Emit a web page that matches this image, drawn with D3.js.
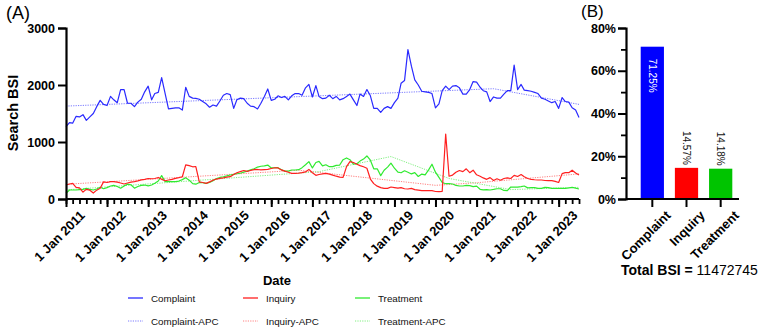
<!DOCTYPE html>
<html>
<head>
<meta charset="utf-8">
<script src="https://cdn.jsdelivr.net/npm/d3@7"></script>
<style>
  body { margin: 0; background: #fff; }
  svg { font-family: "Liberation Sans", Arial, sans-serif; }
</style>
</head>
<body>
<svg id="chart" width="761" height="331"></svg>
<script>
// monthly search BSI, Jan 2011 .. Jul 2023
const firstMonth = new Date(2011, 0, 1);
const lastMonth = new Date(2023, 6, 1);

const complaint = [
  1270,1340,1330,1450,1440,1480,1380,1440,1500,1620,1730,1660,
  1640,1800,1740,1690,1920,1920,1680,1680,1620,1700,1750,1880,
  1980,1740,1850,1870,2130,1850,1580,1590,1600,1600,1560,1960,
  1800,1770,1765,1750,1710,1670,1610,1650,1630,1720,1820,1850,
  1830,1590,1740,1770,1760,1680,1630,1620,1580,1680,1800,1930,
  1730,1750,1810,1780,1800,1740,1810,1850,1850,1820,1950,2010,
  1790,1990,1800,1760,1770,1820,1760,1800,1740,1760,1800,1840,
  1740,1640,1840,1800,1920,1810,1590,1590,1520,1590,1620,1590,
  1690,1770,2030,2080,2620,2330,2090,2000,1890,1880,1870,1850,
  1600,1670,1900,1980,1920,1980,1990,1950,1840,1840,1920,2060,
  2050,1960,1900,1880,1710,1790,1770,1770,1840,1900,1900,2350,
  1920,2010,1910,1900,1890,1870,1850,1770,1750,1720,1690,1710,
  1590,1780,1710,1700,1600,1560,1430
];
const inquiry = [
  246,263,275,205,195,120,170,155,105,155,187,300,
  290,304,304,295,280,263,280,295,304,318,335,345,
  360,355,360,378,345,320,333,345,363,375,391,600,
  585,565,570,300,290,275,300,330,350,363,372,385,
  391,430,460,480,500,485,500,515,518,510,515,520,
  535,548,545,510,490,470,450,450,455,462,475,520,
  460,415,430,440,450,435,420,400,385,380,567,655,
  640,610,585,565,540,350,270,225,200,187,187,210,
  200,190,199,180,175,187,165,155,146,146,146,146,
  132,129,135,1140,400,420,470,500,480,530,462,505,
  425,400,370,345,375,325,355,330,360,370,360,415,
  395,430,390,360,345,338,333,333,325,321,321,310,
  290,445,462,462,505,455,420
];
const treatment = [
  100,158,158,158,165,170,187,170,158,175,205,180,
  200,228,240,220,190,230,260,250,190,220,238,245,
  230,245,275,315,410,305,304,304,304,315,340,374,
  330,270,260,290,285,275,290,320,360,378,391,405,
  421,433,443,452,472,490,512,530,560,575,580,595,
  545,548,550,512,490,490,509,509,515,550,600,655,
  545,640,660,580,600,567,567,590,596,690,720,690,
  610,620,665,700,755,680,530,530,410,505,560,630,
  540,470,460,495,470,440,462,395,437,422,510,610,
  470,380,290,268,270,263,240,228,228,240,235,216,
  225,170,160,165,158,168,180,180,150,146,210,210,
  208,216,228,195,200,200,187,187,205,200,187,187,
  187,187,187,195,205,190,175
];

// joinpoint (APC) trend lines
const complaintApc = [["2011-01",1630],["2021-06",1935],["2023-07",1660]];
const inquiryApc = [["2011-01",258],["2016-09",505],["2020-01",240],["2021-01",285],["2023-07",440]];
const treatmentApc = [["2011-01",160],["2017-03",480],["2018-12",745],["2020-05",360],["2021-11",165],["2023-07",205]];

const yTicksA = [0, 1000, 2000, 3000];
const tickYears = d3.range(2011, 2024);

// panel B
const barCats = ["Complaint", "Inquiry", "Treatment"];
const barShares = [71.25, 14.57, 14.18];
const yTicksB = [0, 20, 40, 60, 80];
const totalBsi = 11472745;

const colors = { Complaint: "#2a2aff", Inquiry: "#ff1f1f", Treatment: "#30ea30" };
const apcColors = { Complaint: "#7a7aff", Inquiry: "#ff8080", Treatment: "#80f080" };
const barColors = ["#0000ff", "#ff0000", "#00c400"];

const svg = d3.select("#chart");
const months = d3.timeMonth.range(firstMonth, d3.timeMonth.offset(lastMonth, 1));
const parseMonth = d3.timeParse("%Y-%m");

// ---------- panel A ----------
const x = d3.scaleTime().domain([firstMonth, lastMonth]).range([66, 579]);
const y = d3.scaleLinear().domain([0, 3000]).range([199, 28]);

svg.append("text").attr("x", 6).attr("y", 19).attr("font-size", 18).text("(A)");

const line = d3.line().x(d => x(d[0])).y(d => y(d[1]));

const series = [
  { key: "Complaint", values: complaint, apc: complaintApc },
  { key: "Inquiry", values: inquiry, apc: inquiryApc },
  { key: "Treatment", values: treatment, apc: treatmentApc }
];

// dotted trends first, then the monthly lines on top
series.forEach(s => {
  svg.append("path")
    .attr("d", line(s.apc.map(p => [parseMonth(p[0]), p[1]])))
    .attr("fill", "none")
    .attr("stroke", apcColors[s.key])
    .attr("stroke-width", 1)
    .attr("stroke-dasharray", "1.2,1.2");
});
[series[2], series[1], series[0]].forEach(s => {
  svg.append("path")
    .attr("d", line(s.values.map((v, i) => [months[i], v])))
    .attr("fill", "none")
    .attr("stroke", colors[s.key])
    .attr("stroke-width", 1.2)
    .attr("stroke-linejoin", "round");
});

// y axis
const yAxis = svg.append("g")
  .attr("transform", "translate(66,0)")
  .call(d3.axisLeft(y).tickValues(yTicksA).tickSize(8).tickPadding(3).tickFormat(d3.format("d")));
yAxis.select(".domain").attr("stroke-width", 2.2);
yAxis.selectAll(".tick line").attr("stroke-width", 2);
yAxis.selectAll("text").attr("font-size", 12.5).attr("font-weight", "bold").attr("font-family", null);

svg.append("text")
  .attr("transform", "translate(18,113) rotate(-90)")
  .attr("text-anchor", "middle")
  .attr("font-size", 14.5).attr("font-weight", "bold")
  .text("Search BSI");

// x axis: minor ticks every 2 months, major every year
const xMinor = svg.append("g")
  .attr("transform", "translate(0,199)")
  .call(d3.axisBottom(x).ticks(d3.timeMonth.every(2)).tickSize(5).tickFormat(""));
xMinor.select(".domain").remove();
xMinor.selectAll(".tick line").attr("stroke-width", 1.8);

const xAxis = svg.append("g")
  .attr("transform", "translate(0,199)")
  .call(d3.axisBottom(x)
    .tickValues(tickYears.map(yr => new Date(yr, 0, 1)))
    .tickSize(8)
    .tickFormat(d => "1 Jan " + d.getFullYear()));
xAxis.select(".domain").attr("stroke-width", 2.2).attr("d", "M66,0H579");
xAxis.selectAll(".tick line").attr("stroke-width", 2);
xAxis.selectAll("text")
  .attr("font-size", 13).attr("font-weight", "bold").attr("font-family", null)
  .attr("text-anchor", "end")
  .attr("transform", "translate(5,3) rotate(-45)")
  .attr("dy", "0.7em");

svg.append("text")
  .attr("x", 277).attr("y", 285)
  .attr("text-anchor", "middle")
  .attr("font-size", 13).attr("font-weight", "bold")
  .text("Date");

// legend
const legendItems = [
  { label: "Complaint", color: colors.Complaint, dash: null, col: 0, row: 0 },
  { label: "Inquiry", color: colors.Inquiry, dash: null, col: 1, row: 0 },
  { label: "Treatment", color: colors.Treatment, dash: null, col: 2, row: 0 },
  { label: "Complaint-APC", color: apcColors.Complaint, dash: "1.2,1.2", col: 0, row: 1 },
  { label: "Inquiry-APC", color: apcColors.Inquiry, dash: "1.2,1.2", col: 1, row: 1 },
  { label: "Treatment-APC", color: apcColors.Treatment, dash: "1.2,1.2", col: 2, row: 1 }
];
const legendCols = [128, 243, 355];
const legendRows = [298, 321];
const legend = svg.append("g");
legendItems.forEach(d => {
  const lx = legendCols[d.col], ly = legendRows[d.row];
  legend.append("line")
    .attr("x1", lx).attr("x2", lx + 15).attr("y1", ly).attr("y2", ly)
    .attr("stroke", d.color).attr("stroke-width", d.dash ? 1 : 1.3)
    .attr("stroke-dasharray", d.dash);
  legend.append("text")
    .attr("x", lx + 23).attr("y", ly + 3.5)
    .attr("font-size", 9.8)
    .attr("fill", "#111")
    .text(d.label);
});

// ---------- panel B ----------
svg.append("text").attr("x", 581).attr("y", 17).attr("font-size", 17).text("(B)");

const xb = d3.scaleBand().domain(barCats).range([626, 747]).paddingInner(0.32).paddingOuter(0.43);
const yb = d3.scaleLinear().domain([0, 80]).range([199, 28]);

svg.selectAll("rect.bar")
  .data(barCats)
  .enter()
  .append("rect")
  .attr("class", "bar")
  .attr("x", d => xb(d))
  .attr("y", (d, i) => yb(barShares[i]))
  .attr("width", xb.bandwidth())
  .attr("height", (d, i) => yb(0) - yb(barShares[i]))
  .attr("fill", (d, i) => barColors[i]);

svg.selectAll("text.barlab")
  .data(barCats)
  .enter()
  .append("text")
  .attr("class", "barlab")
  .attr("transform", (d, i) => {
    const cx = xb(d) + xb.bandwidth() / 2;
    const top = yb(barShares[i]);
    return i === 0 ? `translate(${cx},${top + 12}) rotate(90)` : `translate(${cx},${top - 3}) rotate(90)`;
  })
  .attr("text-anchor", (d, i) => i === 0 ? "start" : "end")
  .attr("dy", "0.35em")
  .attr("font-size", 10)
  .attr("fill", (d, i) => i === 0 ? "#fff" : "#111")
  .text((d, i) => barShares[i].toFixed(2) + "%");

const ybMinor = svg.append("g")
  .attr("transform", "translate(626,0)")
  .call(d3.axisLeft(yb).tickValues([10, 30, 50, 70]).tickSize(5).tickFormat(""));
ybMinor.select(".domain").remove();
ybMinor.selectAll(".tick line").attr("stroke-width", 1.8);

const ybAxis = svg.append("g")
  .attr("transform", "translate(626,0)")
  .call(d3.axisLeft(yb).tickValues(yTicksB).tickSize(8).tickPadding(2).tickFormat(d => d + "%"));
ybAxis.select(".domain").attr("stroke-width", 2.2);
ybAxis.selectAll(".tick line").attr("stroke-width", 2);
ybAxis.selectAll("text").attr("font-size", 12.5).attr("font-weight", "bold").attr("font-family", null);

const xbAxis = svg.append("g")
  .attr("transform", "translate(0,199)")
  .call(d3.axisBottom(xb).tickSize(8));
xbAxis.select(".domain").attr("stroke-width", 2.2).attr("d", "M626,0H739");
xbAxis.selectAll(".tick line").attr("stroke-width", 2);
xbAxis.selectAll("text")
  .attr("font-size", 13).attr("font-weight", "bold").attr("font-family", null)
  .attr("text-anchor", "end")
  .attr("transform", "translate(5,3) rotate(-45)")
  .attr("dy", "0.7em");

const total = svg.append("text").attr("x", 621).attr("y", 275).attr("font-size", 14);
total.append("tspan").attr("font-weight", "bold").text("Total BSI = ");
total.append("tspan").text(totalBsi);
</script>
</body>
</html>
